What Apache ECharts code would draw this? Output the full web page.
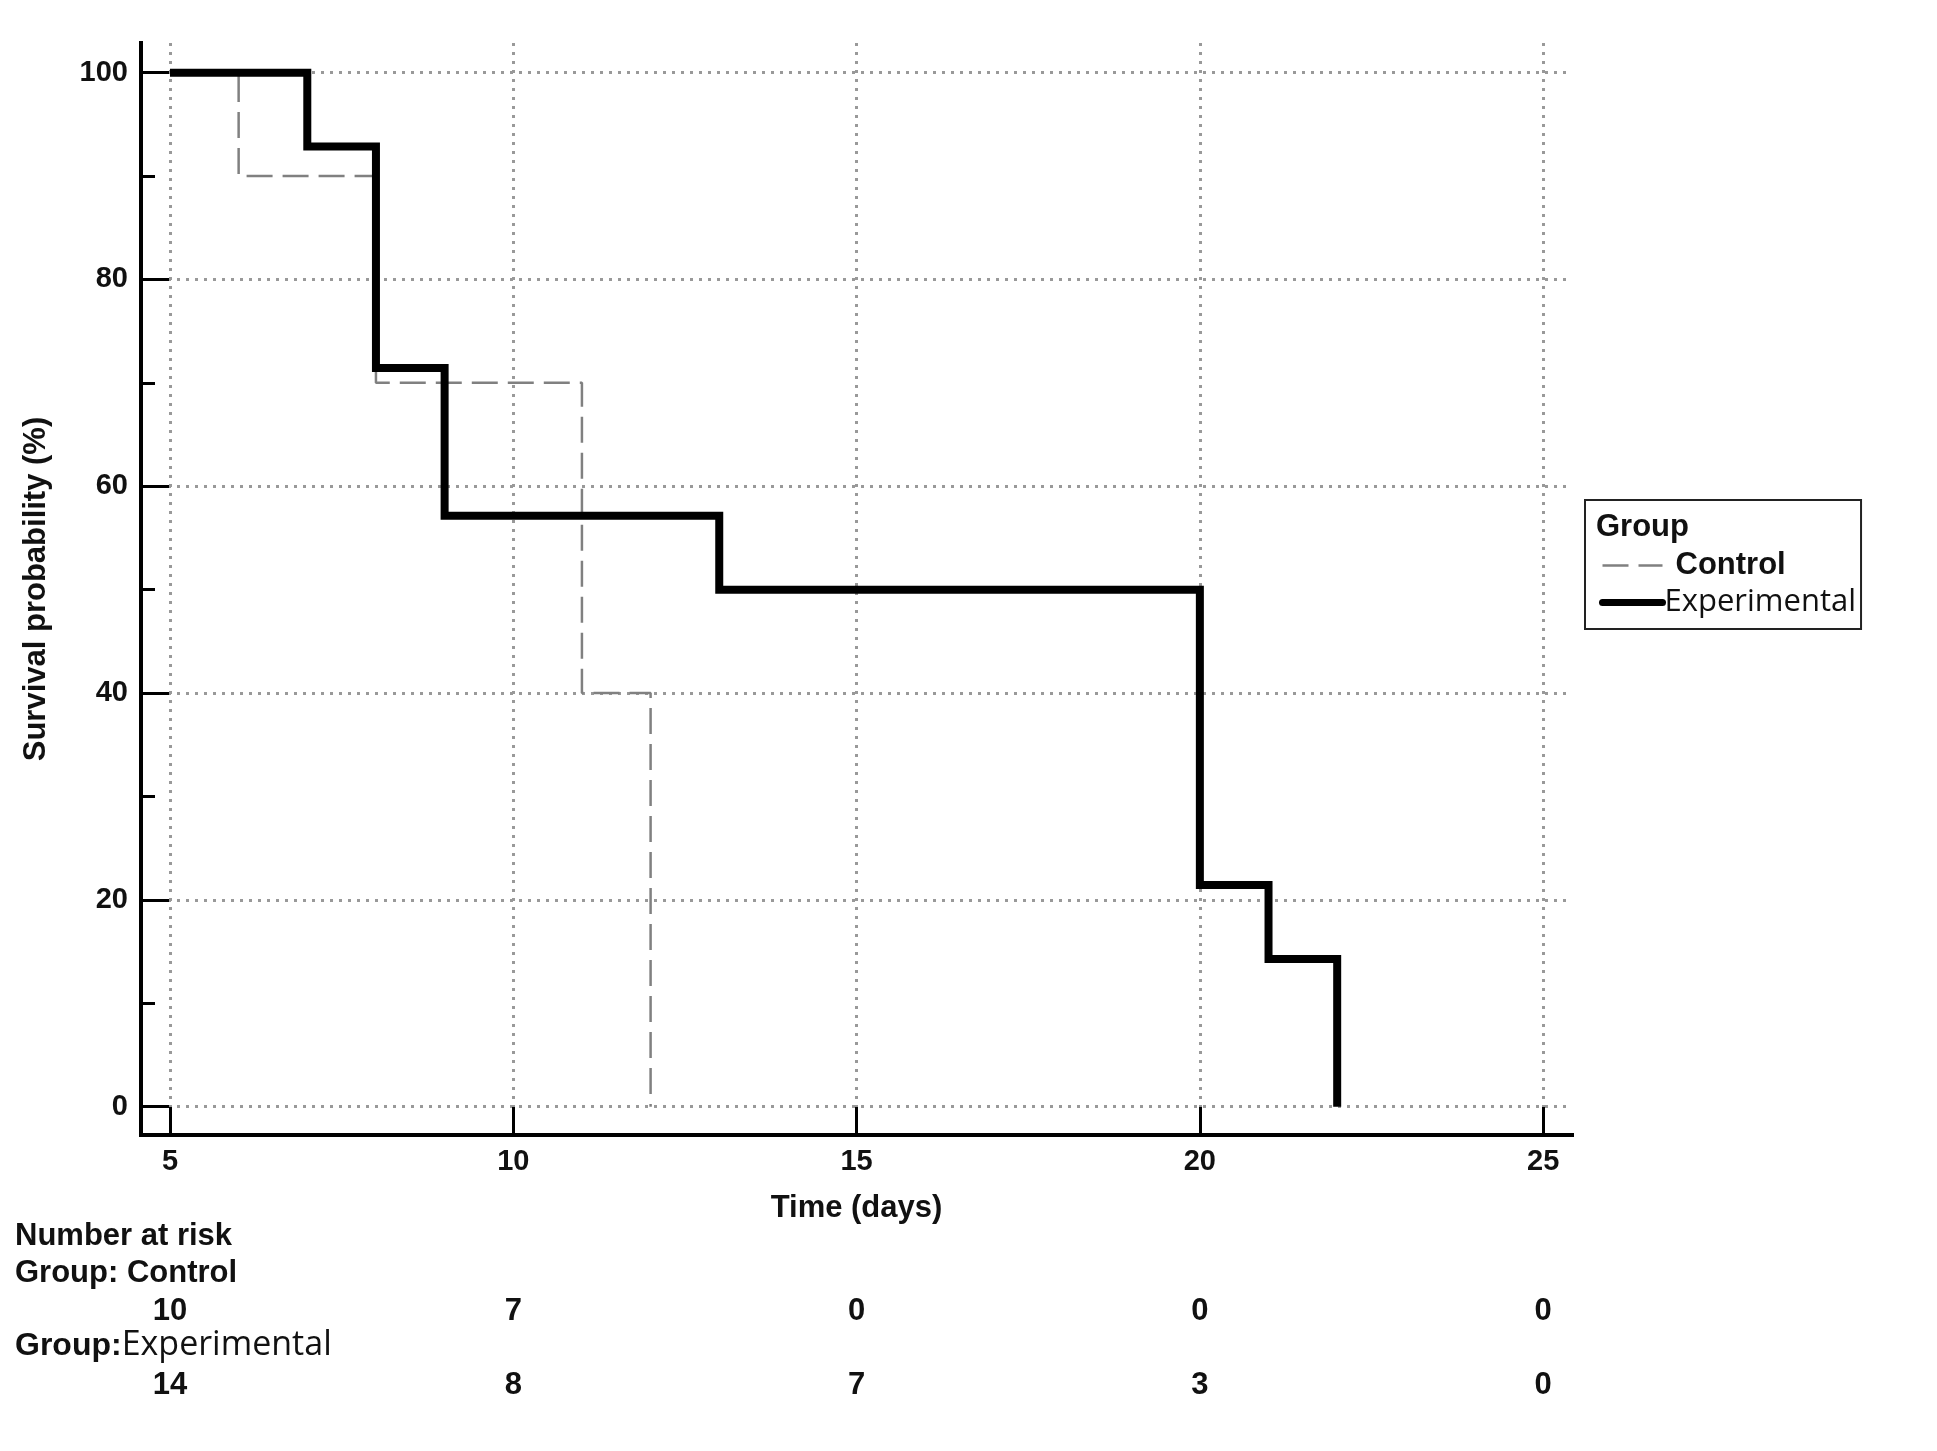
<!DOCTYPE html>
<html><head><meta charset="utf-8">
<script src="https://cdn.jsdelivr.net/npm/echarts@6/dist/echarts.min.js"></script>
<style>html,body{margin:0;padding:0;background:#fff}#c{width:1937px;height:1451px}</style>
</head><body><div id="c"></div>
<script>
// ---- data ----
const xTicks = [5, 10, 15, 20, 25];
const yTicks = [0, 20, 40, 60, 80, 100];
const yMinorTicks = [10, 30, 50, 70, 90];
const controlTimes = [5, 6, 8, 11, 12];
const controlSurvival = [100, 90, 70, 40, 0];
const expTimes = [5, 7, 8, 9, 13, 20, 21, 22];
const expSurvival = [100, 92.86, 71.43, 57.14, 50, 21.43, 14.29, 0];
const riskTimes = [5, 10, 15, 20, 25];
const riskControl = [10, 7, 0, 0, 0];
const riskExperimental = [14, 8, 7, 3, 0];
const groupNames = ['Control', 'Experimental'];

// ---- styling ----
const BOLD = '"Liberation Sans", Arial, sans-serif';
const REG = '"Open Sans", "Noto Sans", sans-serif';
const X_MIN = 4.578, X_MAX = 25.42, Y_MIN = -2.74, Y_MAX = 102.87;
const GRID = {left: 141, top: 43, width: 1431, height: 1092};
const CONTROL_LINE = {color: '#808080', width: 2.5, type: [26, 10]};
const EXP_LINE = {color: '#000', width: 8, type: 'solid'};

const chart = echarts.init(document.getElementById('c'), null, {renderer: 'canvas'});

const zip = (a, b) => a.map((v, i) => [v, b[i]]);

const riskLabel = {
  show: true, position: 'inside', formatter: p => String(p.value[2]),
  fontSize: 31, fontWeight: 'bold', fontFamily: BOLD, color: '#111', textBorderWidth: 0
};

const option = {
  backgroundColor: '#fff',
  animation: false,
  grid: [
    Object.assign({}, GRID),
    Object.assign({}, GRID),
    {left: GRID.left, width: GRID.width, top: 1311, height: 74}
  ],
  xAxis: [
    {
      gridIndex: 0, type: 'value', min: X_MIN, max: X_MAX, position: 'bottom',
      axisLine: {onZero: false, lineStyle: {color: '#000', width: 4, cap: 'square'}},
      axisTick: {inside: true, length: 28, customValues: xTicks, lineStyle: {color: '#000', width: 3}},
      axisLabel: {customValues: xTicks, fontSize: 29, fontWeight: 'bold', fontFamily: BOLD, color: '#111', margin: 12},
      splitLine: {show: true, lineStyle: {type: [3, 6], color: '#999', width: 3}},
      name: 'Time (days)', nameLocation: 'middle', nameGap: 58,
      nameTextStyle: {fontSize: 31, fontWeight: 'bold', fontFamily: BOLD, color: '#111'}
    },
    {gridIndex: 1, type: 'value', min: X_MIN, max: X_MAX, show: false},
    {gridIndex: 2, type: 'value', min: X_MIN, max: X_MAX, show: false}
  ],
  yAxis: [
    {
      gridIndex: 0, type: 'value', min: Y_MIN, max: Y_MAX, position: 'left',
      axisLine: {onZero: false, lineStyle: {color: '#000', width: 4, cap: 'square'}},
      axisTick: {inside: true, length: 28, customValues: yTicks, lineStyle: {color: '#000', width: 3}},
      axisLabel: {customValues: yTicks, fontSize: 29, fontWeight: 'bold', fontFamily: BOLD, color: '#111', margin: 13},
      splitLine: {show: true, lineStyle: {type: [3, 6], color: '#999', width: 3}},
      name: 'Survival probability (%)', nameLocation: 'middle', nameGap: 89,
      nameTextStyle: {fontSize: 31, fontWeight: 'bold', fontFamily: BOLD, color: '#111'}
    },
    {
      gridIndex: 1, type: 'value', min: Y_MIN, max: Y_MAX, position: 'left',
      axisLine: {show: false},
      axisTick: {show: true, inside: true, length: 14, customValues: yMinorTicks, lineStyle: {color: '#000', width: 3}},
      axisLabel: {show: false},
      splitLine: {show: false}
    },
    {gridIndex: 2, type: 'category', data: groupNames, inverse: true, boundaryGap: false, show: false}
  ],
  legend: {
    orient: 'vertical', left: 1585, top: 500,
    padding: [50, 5, 11, 14],
    borderColor: '#222', borderWidth: 2, borderRadius: 0,
    itemWidth: 60, itemHeight: 14, itemGap: 6,
    textStyle: {color: '#111'},
    itemStyle: {opacity: 0, borderWidth: 0},
    data: [
      {name: 'Control', itemStyle: {opacity: 0, borderWidth: 0},
       lineStyle: Object.assign({opacity: 1}, CONTROL_LINE),
       textStyle: {fontSize: 31, fontWeight: 'bold', fontFamily: BOLD, padding: [0, 0, 0, 8]}},
      {name: 'Experimental', itemStyle: {opacity: 0, borderWidth: 0},
       lineStyle: Object.assign({opacity: 1, cap: 'round'}, EXP_LINE, {width: 7}),
       textStyle: {fontSize: 31, fontFamily: REG, padding: [0, 0, 0, -3]}}
    ]
  },
  graphic: [
    {type: 'text', left: 1596, top: 512, style: {text: 'Group', font: 'bold 31px ' + BOLD, fill: '#111'}},
    {type: 'text', left: 15, top: 1221, style: {text: 'Number at risk', font: 'bold 31px ' + BOLD, fill: '#111'}},
    {type: 'text', left: 15, top: 1258, style: {text: 'Group: Control', font: 'bold 31px ' + BOLD, fill: '#111'}},
    {type: 'text', left: 15, top: 1328, style: {
      text: '{b|Group:}{r|Experimental}',
      rich: {
        b: {font: 'bold 32px ' + BOLD, fill: '#111', verticalAlign: 'bottom'},
        r: {font: '34px ' + REG, fill: '#111', verticalAlign: 'bottom'}
      }
    }}
  ],
  series: [
    {
      name: 'Control', type: 'line', xAxisIndex: 0, yAxisIndex: 0, step: 'end',
      data: zip(controlTimes, controlSurvival), symbol: 'none', z: 3,
      lineStyle: CONTROL_LINE,
      itemStyle: {color: '#808080'}
    },
    {
      name: 'Experimental', type: 'line', xAxisIndex: 0, yAxisIndex: 0, step: 'end',
      data: zip(expTimes, expSurvival), symbol: 'none', z: 4,
      lineStyle: Object.assign({join: 'miter', cap: 'butt'}, EXP_LINE),
      itemStyle: {color: '#000'}
    },
    {
      name: 'riskControl', type: 'scatter', xAxisIndex: 2, yAxisIndex: 2,
      data: riskTimes.map((t, i) => [t, groupNames[0], riskControl[i]]),
      symbolSize: 1, itemStyle: {color: 'rgba(0,0,0,0)', opacity: 1}, silent: true,
      label: riskLabel
    },
    {
      name: 'riskExperimental', type: 'scatter', xAxisIndex: 2, yAxisIndex: 2,
      data: riskTimes.map((t, i) => [t, groupNames[1], riskExperimental[i]]),
      symbolSize: 1, itemStyle: {color: 'rgba(0,0,0,0)', opacity: 1}, silent: true,
      label: riskLabel
    }
  ]
};
chart.setOption(option);
</script>
</body></html>
